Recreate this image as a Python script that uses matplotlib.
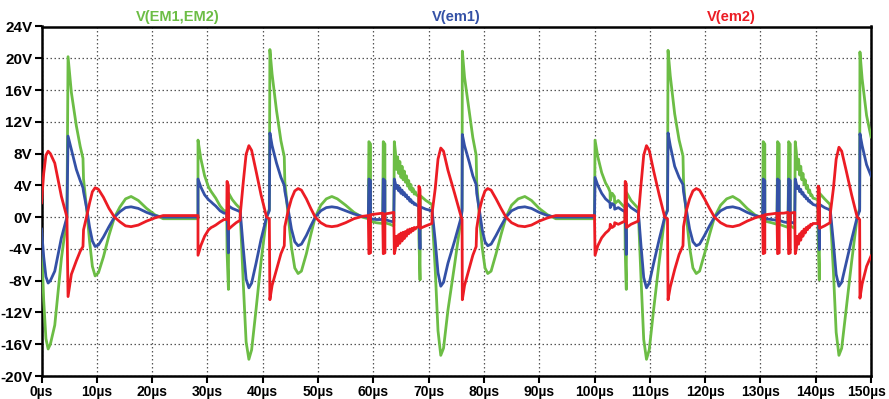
import matplotlib
matplotlib.use('Agg')
import matplotlib.pyplot as plt
import matplotlib.transforms as mtransforms
import numpy as np

plt.rcParams['font.family'] = ['Liberation Sans', 'DejaVu Sans']
plt.rcParams['font.weight'] = 'bold'

# time axis (µs), shared by the three traces; one line per waveform segment
t_us = [
    0.0, 0.4, 0.8, 1.2, 1.6, 2.4, 3.0, 3.6, 4.6,
    4.8, 5.4, 6.3, 7.0, 7.5, 7.6, 8.2, 8.7, 9.2, 9.7, 10.3, 11.2, 12.2, 13.2, 14.2, 15.2, 16.2, 17.5, 19.0, 20.5, 22.0, 28.3,
    28.3, 28.8, 29.5, 30.2, 30.7, 31.0, 31.5, 32.3, 33.0, 33.5, 33.55, 33.8, 33.85, 34.5, 35.2, 35.9,
    35.95, 36.5, 37.0, 37.5, 38.0, 38.8, 39.7, 40.7, 41.2, 41.3, 41.7, 42.5, 43.3, 43.9, 44.0, 44.6, 45.2, 45.8, 46.4, 47.0, 47.9, 48.7, 49.5, 50.5, 51.5, 52.5, 53.5, 55.0, 56.5, 58.0, 59.1,
    59.2, 59.5, 59.5, 60.5, 61.7, 61.8, 62.1, 62.1, 63.0, 63.7,
    63.8, 64.0, 64.2, 64.4, 64.6, 64.8, 65.0, 65.2, 65.4, 65.6, 65.8, 66.0, 66.2, 66.4, 66.6, 66.8, 67.0, 67.2, 67.4, 67.6, 67.8, 68.2,
    68.25, 68.45, 68.5, 69.5, 70.6, 70.65, 71.2, 71.7, 72.2, 72.7, 73.5, 74.7, 75.9, 76.05, 76.1, 76.5, 77.4, 78.0, 78.6, 78.7, 79.2, 79.7, 80.2, 80.7, 81.3, 82.2, 83.1, 84.0, 85.0, 86.2, 87.4, 88.6, 90.0, 91.5, 93.0, 100.0,
    100.1, 100.6, 101.3, 102.0, 102.5, 102.8, 102.85, 103.2, 103.6, 103.65, 104.3, 105.2, 105.5, 105.55, 105.75, 105.8, 106.6, 107.9,
    107.95, 108.4, 108.9, 109.4, 109.9, 110.7, 111.7, 112.7, 113.2, 113.3, 113.7, 114.5, 115.3, 116.0, 116.1, 116.6, 117.2, 117.8, 118.4, 119.0, 119.9, 120.8, 121.7, 122.8, 123.9, 125.0, 126.2, 127.6, 129.0, 130.4,
    130.5, 130.8, 130.8, 132.0, 133.0, 133.1, 133.4, 133.4, 134.2, 135.0, 135.1, 135.4, 135.4, 136.2,
    136.3, 136.5, 136.7, 136.9, 137.1, 137.3, 137.5, 137.7, 137.9, 138.1, 138.3, 138.5, 138.7, 138.9, 139.1, 139.3, 139.5, 140.4,
    140.45, 140.65, 140.7, 141.6, 142.6, 142.65, 143.2, 143.7, 144.2, 144.7, 145.5, 146.5, 147.5, 147.95, 148.0, 148.4, 149.2, 150.0,
]

# V(em1) - blue
v_em1 = [
    -1.5, -5.0, -7.5, -8.3, -8.0, -6.8, -4.7, -2.6, 0.0,
    10.2, 8.5, 6.0, 4.6, 3.7, 3.2, 1.0, -1.3, -3.0, -3.7, -3.5, -2.5, -1.2, 0.0, 0.7, 1.2, 1.3, 1.1, 0.6, 0.2, 0.0, 0.0,
    4.8, 3.8, 2.8, 2.2, 1.9, 1.7, 1.4, 0.8, 0.5, 0.5, 0.2, -4.5, 1.4, 1.1, 0.9, 0.7,
    0.6, -4.0, -7.8, -8.9, -8.3, -5.8, -2.8, 0.0, 0.8, 10.6, 9.0, 6.8, 5.0, 4.0, 3.3, 1.0, -1.5, -3.1, -3.6, -3.4, -2.3, -1.1, 0.0, 0.8, 1.2, 1.3, 1.2, 0.8, 0.4, 0.1, 0.0,
    4.8, 4.6, -0.2, -0.3, -0.3, 4.8, 4.6, -0.3, -0.5, -0.6,
    4.8, 4.2, 3.6, 4.0, 3.3, 3.7, 3.0, 3.4, 2.8, 3.1, 2.6, 2.8, 2.3, 2.5, 2.0, 2.2, 1.8, 1.9, 1.6, 1.7, 1.5, 1.4,
    1.2, -4.0, 1.3, 1.0, 0.8, 0.7, -3.0, -7.0, -8.7, -8.2, -5.8, -3.0, 0.0, 0.8, 10.4, 9.0, 6.8, 5.2, 4.1, 3.0, 0.8, -1.6, -3.1, -3.6, -3.4, -2.3, -1.1, 0.0, 0.8, 1.2, 1.3, 1.1, 0.6, 0.2, 0.0, 0.0,
    5.0, 4.0, 3.0, 2.3, 2.0, 1.8, 1.2, 1.7, 1.5, 1.0, 1.2, 0.8, 0.7, 0.4, -4.7, 1.8, 1.2, 0.6,
    0.5, -3.5, -7.6, -8.9, -8.3, -5.8, -2.8, 0.0, 0.8, 10.6, 9.0, 6.4, 5.0, 4.1, 3.2, 1.0, -1.5, -3.1, -3.6, -3.4, -2.3, -1.1, 0.0, 0.8, 1.2, 1.3, 1.1, 0.6, 0.2, 0.0,
    4.8, 4.6, -0.2, -0.3, -0.4, 4.8, 4.6, -0.4, -0.6, -0.7, 4.8, 4.6, -0.6, -0.8,
    4.8, 4.2, 3.6, 3.9, 3.2, 3.5, 2.9, 3.1, 2.6, 2.7, 2.3, 2.4, 2.0, 2.1, 1.8, 1.8, 1.6, 1.4,
    1.2, -4.1, 1.6, 1.2, 0.9, 0.8, -3.2, -7.2, -8.7, -8.2, -5.8, -2.8, 0.0, 0.8, 10.5, 9.0, 6.6, 5.2,
]

# V(em2) - red
v_em2 = [
    1.8, 5.5, 7.8, 8.3, 8.0, 6.8, 4.7, 2.6, 0.0,
    -10.0, -7.2, -5.5, -4.3, -3.7, -1.6, 0.2, 1.8, 3.2, 3.7, 3.5, 2.5, 1.1, 0.0, -0.6, -1.1, -1.2, -1.0, -0.5, -0.1, 0.2, 0.2,
    -4.8, -3.6, -2.4, -1.6, -1.3, -1.2, -1.0, -0.6, -0.3, -0.3, 4.5, 4.0, -1.5, -1.1, -0.7, -0.4,
    0.4, 4.5, 7.9, 9.0, 8.4, 5.8, 2.8, 0.0, -0.2, -10.4, -8.6, -6.6, -4.6, -3.6, -1.2, 0.8, 2.3, 3.3, 3.6, 3.4, 2.3, 1.1, 0.0, -0.7, -1.1, -1.2, -1.1, -0.7, -0.2, 0.1, 0.2,
    -4.6, -4.5, 0.3, 0.4, 0.5, -4.6, -4.5, 0.4, 0.5, 0.6,
    -4.6, -4.0, -2.4, -3.6, -2.2, -3.3, -2.0, -3.0, -1.9, -2.7, -1.8, -2.4, -1.6, -2.1, -1.5, -1.9, -1.4, -1.7, -1.3, -1.5, -1.3, -1.2,
    3.9, 3.5, -1.4, -1.1, -0.8, 0.6, 3.6, 7.3, 8.7, 8.3, 5.9, 3.0, 0.0, -0.3, -10.4, -8.6, -6.3, -4.8, -3.7, -1.4, 0.9, 2.3, 3.3, 3.6, 3.4, 2.3, 1.1, 0.0, -0.7, -1.1, -1.2, -1.0, -0.5, -0.1, 0.2, 0.2,
    -4.8, -3.6, -2.6, -2.0, -1.7, -1.4, -0.9, -1.3, -1.1, -0.7, -0.9, -0.6, -0.5, 4.5, 4.2, -1.3, -0.9, -0.5,
    0.3, 4.0, 7.8, 9.0, 8.4, 5.8, 2.8, 0.0, -0.2, -10.4, -8.8, -6.6, -4.7, -3.6, -1.2, 0.8, 2.3, 3.3, 3.6, 3.4, 2.3, 1.1, 0.0, -0.7, -1.1, -1.2, -1.0, -0.5, -0.1, 0.2,
    -4.6, -4.5, 0.3, 0.4, 0.5, -4.6, -4.5, 0.5, 0.5, 0.6, -4.6, -4.5, 0.5, 0.6,
    -4.6, -4.0, -2.4, -3.4, -2.1, -2.9, -1.8, -2.4, -1.5, -2.0, -1.3, -1.6, -1.1, -1.3, -0.9, -1.0, -0.8, -0.8,
    3.9, 3.6, -1.4, -1.1, -0.7, 0.5, 3.6, 7.3, 8.8, 8.3, 5.9, 2.8, 0.0, -0.3, -10.2, -8.4, -6.2, -4.9,
]

# V(EM1,EM2) - green
v_em12 = [
    -3.3, -10.5, -15.3, -16.6, -16.0, -13.6, -9.4, -5.2, 0.0,
    20.2, 15.7, 11.5, 8.9, 7.4, 4.8, 0.8, -3.1, -6.2, -7.4, -7.0, -5.0, -2.3, 0.0, 1.3, 2.3, 2.6, 2.1, 1.1, 0.3, -0.2, -0.2,
    9.7, 7.4, 5.2, 3.8, 3.2, 2.9, 2.4, 1.4, 0.8, 0.8, -4.3, -9.1, 3.0, 2.2, 1.6, 1.1,
    0.2, -8.5, -15.7, -17.9, -16.7, -11.6, -5.6, 0.0, 1.0, 21.1, 18.0, 13.4, 9.6, 7.6, 4.5, 0.2, -3.8, -6.4, -7.1, -6.8, -4.6, -2.2, 0.0, 1.5, 2.3, 2.6, 2.3, 1.5, 0.6, 0.0, -0.2,
    9.5, 9.2, -0.5, -0.7, -0.8, 9.5, 9.2, -0.7, -0.9, -1.1,
    9.5, 8.2, 6.0, 7.6, 5.5, 7.0, 5.0, 6.4, 4.7, 5.8, 4.4, 5.2, 3.9, 4.6, 3.5, 4.1, 3.2, 3.6, 2.9, 3.2, 2.8, 2.6,
    -2.7, -7.9, 2.7, 2.1, 1.6, 0.1, -6.6, -14.3, -17.4, -16.5, -11.7, -6.0, 0.0, 1.1, 20.9, 17.6, 13.1, 10.0, 7.8, 4.4, -0.1, -3.9, -6.4, -7.1, -6.8, -4.6, -2.2, 0.0, 1.5, 2.3, 2.6, 2.1, 1.1, 0.3, -0.2, -0.2,
    9.7, 7.6, 5.6, 4.3, 3.7, 3.2, 2.1, 3.0, 2.6, 1.7, 2.1, 1.4, 1.2, -4.1, -9.1, 3.1, 2.1, 1.1,
    0.2, -7.5, -15.4, -17.9, -16.7, -11.6, -5.6, 0.0, 1.0, 21.0, 17.8, 13.0, 9.7, 7.7, 4.4, 0.2, -3.8, -6.4, -7.1, -6.8, -4.6, -2.2, 0.0, 1.5, 2.3, 2.6, 2.1, 1.1, 0.3, -0.2,
    9.5, 9.2, -0.5, -0.7, -0.9, 9.5, 9.2, -0.9, -1.1, -1.3, 9.5, 9.2, -1.1, -1.4,
    9.5, 8.2, 6.0, 7.3, 5.3, 6.4, 4.7, 5.5, 4.1, 4.7, 3.6, 4.0, 3.1, 3.4, 2.7, 2.8, 2.4, 2.2,
    -2.7, -7.9, 3.0, 2.3, 1.6, 0.3, -6.8, -14.5, -17.4, -16.5, -11.7, -5.6, 0.0, 1.1, 20.8, 17.4, 12.8, 10.1,
]

x_ticks = list(range(0, 151, 10))
y_ticks = list(range(-20, 25, 4))

green = '#6cbd45'
blue = '#3451a6'
red = '#ec1c24'

fig = plt.figure(figsize=(8.89, 3.99), dpi=100)
ax = fig.add_axes([41.5 / 889, 1 - 376 / 399, (871 - 41.5) / 889, (376 - 26.5) / 399])

ax.plot(t_us, v_em12, color=green, lw=2.0, zorder=3)
ax.plot(t_us, v_em1, color=blue, lw=2.0, zorder=4)
ax.plot(t_us, v_em2, color=red, lw=2.0, zorder=5)

ax.set_xlim(0, 150)
ax.set_ylim(-20, 24)
ax.set_xticks(x_ticks)
ax.set_xticklabels(['%dµs' % v for v in x_ticks])
ax.set_yticks(y_ticks)
ax.set_yticklabels(['%dV' % v for v in y_ticks])
ax.grid(True, color='#555555', linestyle=(0, (1.2, 2.0)), linewidth=0.9)
ax.set_axisbelow(True)
for s in ax.spines.values():
    s.set_linewidth(1.8)
    s.set_color('black')
ax.tick_params(direction='out', length=5, width=1.5, pad=1.5, colors='black')
ax.tick_params(axis='y', labelsize=11)
ax.tick_params(axis='x', labelsize=10)
for lbl in ax.get_xticklabels() + ax.get_yticklabels():
    lbl.set_fontweight('bold')

# last x label sits at the right border; nudge it in so it is not clipped
last = ax.get_xticklabels()[-1]
last.set_transform(last.get_transform() + mtransforms.ScaledTranslation(-4 / 100, 0, fig.dpi_scale_trans))

fig.text(178 / 889, 1 - 17.5 / 399, 'V(EM1,EM2)', color=green, ha='center', va='center',
         fontsize=10.5, fontweight='bold')
fig.text(456 / 889, 1 - 17.5 / 399, 'V(em1)', color=blue, ha='center', va='center',
         fontsize=10.5, fontweight='bold')
fig.text(731 / 889, 1 - 17.5 / 399, 'V(em2)', color=red, ha='center', va='center',
         fontsize=10.5, fontweight='bold')

fig.savefig('out.png', dpi=100)
